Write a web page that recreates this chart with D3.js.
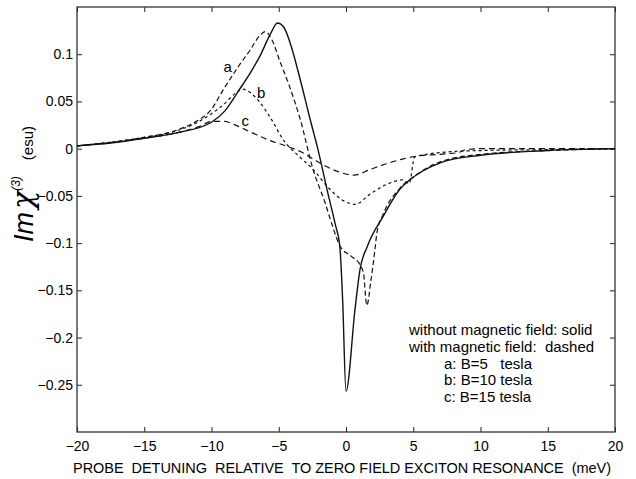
<!DOCTYPE html>
<html>
<head>
<meta charset="utf-8">
<script src="https://cdn.jsdelivr.net/npm/d3@7"></script>
<style>
  body { margin: 0; background: #fff; }
  text { font-family: "Liberation Sans", Arial, sans-serif; fill: #000; }
</style>
</head>
<body>
<div id="chart"></div>
<script>
// detuning (meV) and Im chi(3) (esu)
const solidX = [-20, -17.5, -15, -12.5, -10, -9, -8, -7, -6.4, -5.6, -5.1, -4.6, -4.2, -3.4, -2.7, -2.1, -1.3, -0.8, -0.45, -0.25, 0, 0.67, 1.04, 1.6, 2.75, 4.0, 4.75, 7, 10, 15, 20];
const solidY = [0.003, 0.006, 0.011, 0.017, 0.028, 0.04, 0.061, 0.083, 0.098, 0.122, 0.133, 0.128, 0.114, 0.073, 0.033, 0.0, -0.05, -0.08, -0.105, -0.16, -0.257, -0.17, -0.128, -0.103, -0.072, -0.043, -0.033, -0.015, -0.007, -0.002, 0];

const aX = [-20, -15, -12.5, -11, -10.1, -9.1, -8, -7.1, -6.4, -6.0, -5.5, -4.9, -4.2, -3.4, -2.45, -1.56, -1.0, -0.45, 0.4, 1.0, 1.3, 1.55, 1.85, 2.15, 2.3, 2.75, 4, 5, 7, 10, 15, 20];
const aY = [0.003, 0.012, 0.02, 0.03, 0.04, 0.063, 0.087, 0.105, 0.12, 0.124, 0.115, 0.092, 0.066, 0.031, -0.022, -0.057, -0.082, -0.103, -0.114, -0.122, -0.132, -0.166, -0.14, -0.107, -0.089, -0.07, -0.042, -0.03, -0.014, -0.006, -0.002, 0];

const bX = [-20, -15, -12.8, -11.3, -10.1, -9, -8.2, -7.7, -7.0, -6.4, -5.5, -4.7, -3.5, -2.45, -1.2, -0.2, 0.67, 1.8, 3, 4.2, 4.7, 5.1, 6, 8, 10, 15, 20];
const bY = [0.003, 0.012, 0.018, 0.026, 0.036, 0.048, 0.059, 0.063, 0.058, 0.049, 0.03, 0.01, -0.008, -0.022, -0.043, -0.055, -0.059, -0.048, -0.038, -0.033, -0.037, -0.009, -0.006, -0.003, -0.002, -0.001, 0];

const cX = [-20, -15, -12.5, -11, -9.9, -9, -8.4, -7, -5.9, -4.5, -3.4, -2.2, -1, 0.6, 1.8, 3, 4.2, 5.2, 7, 8.4, 8.9, 10, 15, 20];
const cY = [0.003, 0.011, 0.017, 0.023, 0.029, 0.029, 0.026, 0.017, 0.01, 0.003, -0.003, -0.013, -0.022, -0.028, -0.022, -0.016, -0.011, -0.008, -0.006, -0.004, -0.001, 0, 0, 0];

const xTicks = [-20, -15, -10, -5, 0, 5, 10, 15, 20];
const yTicks = [-0.25, -0.2, -0.15, -0.1, -0.05, 0, 0.05, 0.1];
const curveLabels = [["a", -8.8, 0.087], ["b", -6.3, 0.059], ["c", -7.5, 0.03]];
const legendLines = ["without magnetic field: solid", "with magnetic field:  dashed", "a: B=5   tesla", "b: B=10 tesla", "c: B=15 tesla"];

const width = 636, height = 479;
const margin = {top: 7, right: 21, bottom: 47, left: 77};
const w = width - margin.left - margin.right, h = height - margin.top - margin.bottom;

const svg = d3.select("#chart").append("svg").attr("width", width).attr("height", height);
const g = svg.append("g").attr("transform", `translate(${margin.left},${margin.top})`);

const x = d3.scaleLinear().domain([-20, 20]).range([0, w]);
const y = d3.scaleLinear().domain([-0.3, 0.15]).range([h, 0]);
const fmt = d => d === 0 ? "0" : String(d).replace("-", "\u2212");

g.append("g").attr("transform", `translate(0,${h})`)
  .call(d3.axisBottom(x).tickValues(xTicks).tickSize(-5).tickPadding(9).tickFormat(fmt));
g.append("g").call(d3.axisTop(x).tickValues(xTicks).tickSize(-5).tickFormat(""));
g.append("g").call(d3.axisLeft(y).tickValues(yTicks).tickSize(-5).tickPadding(4).tickFormat(fmt));
g.append("g").attr("transform", `translate(${w},0)`)
  .call(d3.axisRight(y).tickValues(yTicks).tickSize(-5).tickFormat(""));
g.selectAll(".domain").remove();
g.selectAll(".tick line").attr("stroke", "#222");
g.selectAll(".tick text").style("font-size", "14px").attr("fill", "#000");
g.append("rect").attr("width", w).attr("height", h).attr("fill", "none").attr("stroke", "#333").attr("stroke-width", 1.3);

const line = d3.line().curve(d3.curveMonotoneX).x(d => x(d[0])).y(d => y(d[1]));
const series = [
  {xs: cX, ys: cY, dash: "6,4", sw: 1.2},
  {xs: bX, ys: bY, dash: "3,3", sw: 1.2},
  {xs: aX, ys: aY, dash: "5,3", sw: 1.2},
  {xs: solidX, ys: solidY, dash: null, sw: 1.4}
];
g.append("g").selectAll("path").data(series).join("path")
  .attr("d", s => line(d3.zip(s.xs, s.ys)))
  .attr("fill", "none").attr("stroke", "#111")
  .attr("stroke-width", s => s.sw)
  .attr("stroke-dasharray", s => s.dash);

g.selectAll(".clabel").data(curveLabels).join("text")
  .attr("x", d => x(d[1])).attr("y", d => y(d[2])).attr("dy", "0.35em")
  .attr("text-anchor", "middle").style("font-size", "15px").text(d => d[0]);

svg.append("g").selectAll("text").data(legendLines).join("text")
  .attr("x", (d, i) => i < 2 ? 409 : 444)
  .attr("y", (d, i) => 335 + i * 16.8)
  .style("font-size", "15px").style("white-space", "pre").text(d => d);

svg.append("text").attr("x", 73).attr("y", 473).attr("textLength", 538)
  .style("font-size", "14.5px").style("white-space", "pre")
  .text("PROBE  DETUNING  RELATIVE  TO ZERO FIELD EXCITON RESONANCE  (meV)");

const yl = svg.append("text").attr("transform", "translate(33,242) rotate(-90)");
yl.append("tspan").style("font-size", "27px").style("font-style", "italic").text("Im");
yl.append("tspan").style("font-size", "30px").style("font-family", "'DejaVu Serif', serif")
  .style("font-style", "italic").attr("dx", 3).text("\u03c7");
yl.append("tspan").style("font-size", "12px").style("font-style", "italic").attr("dy", -13).text("(3)");
yl.append("tspan").style("font-size", "15px").attr("dy", 13).attr("dx", 16).text("(esu)");
</script>
</body>
</html>
